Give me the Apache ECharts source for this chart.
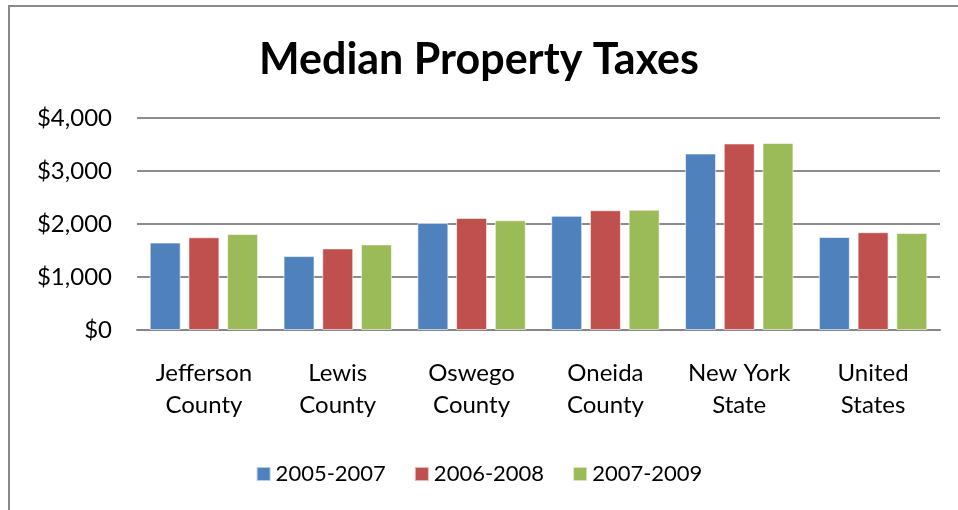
<!DOCTYPE html>
<html>
<head>
<meta charset="utf-8">
<script src="https://cdn.jsdelivr.net/npm/echarts@6/dist/echarts.min.js"></script>
<style>
  html, body { margin: 0; padding: 0; background: #fff; }
  #chart { width: 958px; height: 510px; }
</style>
</head>
<body>
<div id="chart"></div>
<script>
// categories and values
const categories = ['Jefferson\nCounty', 'Lewis\nCounty', 'Oswego\nCounty', 'Oneida\nCounty', 'New York\nState', 'United\nStates'];
const seriesNames = ['2005-2007', '2006-2008', '2007-2009'];
const values2005 = [1650, 1395, 2020, 2155, 3330, 1755];
const values2006 = [1750, 1540, 2115, 2260, 3520, 1845];
const values2007 = [1810, 1615, 2070, 2270, 3530, 1830];
const colors = ['#4f81bd', '#c0504d', '#9bbb59'];

const font = 'Lato, "Liberation Sans", sans-serif';
const chart = echarts.init(document.getElementById('chart'));

const allValues = [values2005, values2006, values2007];

chart.setOption({
  animation: false,
  textStyle: { fontFamily: font },
  title: {
    text: 'Median Property Taxes',
    left: 'center',
    top: 34,
    textStyle: { fontSize: 43, fontWeight: 'bold', color: '#000', fontFamily: font }
  },
  graphic: [{
    type: 'rect',
    shape: { x: 9, y: 6, width: 1000, height: 600 },
    style: { fill: 'none', stroke: '#898989', lineWidth: 2 },
    silent: true
  }],
  legend: {
    bottom: 20,
    left: 'center',
    itemWidth: 14,
    itemHeight: 14,
    itemGap: 28,
    icon: 'rect',
    textStyle: { fontSize: 22, color: '#000', fontFamily: font },
    data: seriesNames
  },
  grid: { left: 137, right: 18, top: 118, bottom: 180 },
  xAxis: {
    type: 'category',
    data: categories,
    axisLine: { lineStyle: { color: '#868686', width: 2 } },
    axisTick: { show: false },
    axisLabel: { fontSize: 24, color: '#000', lineHeight: 32, margin: 27, fontFamily: font }
  },
  yAxis: {
    type: 'value',
    min: 0,
    max: 4000,
    interval: 1000,
    axisLine: { show: false },
    axisTick: { show: false },
    axisLabel: {
      fontSize: 24, color: '#000', margin: 25, fontFamily: font,
      formatter: v => '$' + v.toLocaleString('en-US')
    },
    splitLine: { lineStyle: { color: '#8c8c8c', width: 2 } }
  },
  series: seriesNames.map((name, i) => ({
    name: name,
    type: 'bar',
    data: allValues[i],
    barGap: '25%',
    barCategoryGap: '19%',
    itemStyle: { color: colors[i], borderColor: 'rgba(255,255,255,0.6)', borderWidth: 1 }
  }))
});
</script>
</body>
</html>
